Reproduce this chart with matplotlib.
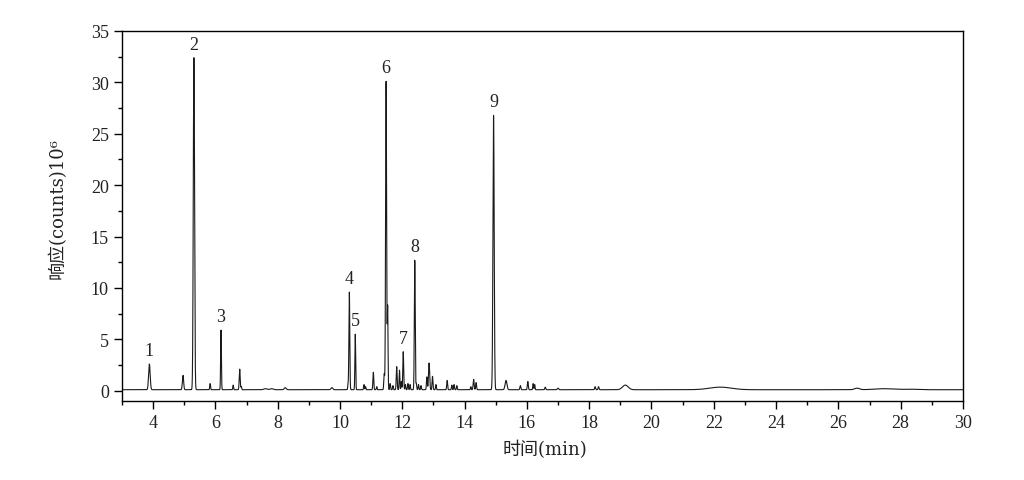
import numpy as np
import matplotlib
matplotlib.use("Agg")
import matplotlib.pyplot as plt
from matplotlib.ticker import MultipleLocator

# ---- data ----
peak_times = [3.88, 4.96, 5.31, 5.83, 6.18, 6.57, 6.78, 6.83, 7.6, 7.8, 8.24, 9.74,
              10.26, 10.30, 10.49, 10.77, 10.82, 11.07, 11.18, 11.42, 11.48, 11.53,
              11.61, 11.70, 11.82, 11.91, 11.97, 12.03, 12.10, 12.18, 12.25, 12.40,
              12.45, 12.52, 12.60, 12.79, 12.86, 12.97, 13.08, 13.44, 13.59, 13.66,
              13.75, 14.20, 14.29, 14.37, 14.93, 15.33, 15.79, 16.03, 16.20, 16.25,
              16.59, 17.00, 18.19, 18.30, 19.16, 22.21, 26.60, 27.45, 28.30]
peak_heights = [2.5, 1.4, 32.3, 0.6, 5.8, 0.45, 2.0, 0.3, 0.1, 0.1, 0.2, 0.2,
                0.5, 9.5, 5.4, 0.5, 0.3, 1.7, 0.3, 1.55, 30.0, 8.0,
                0.6, 0.4, 2.25, 1.9, 0.8, 3.7, 0.5, 0.6, 0.5, 12.6,
                0.6, 0.5, 0.4, 1.25, 2.6, 1.3, 0.5, 0.9, 0.45, 0.5,
                0.4, 0.3, 1.0, 0.7, 26.7, 0.9, 0.4, 0.8, 0.6, 0.5,
                0.25, 0.15, 0.3, 0.3, 0.45, 0.25, 0.15, 0.1, 0.05]
peak_widths = [0.025, 0.02, 0.02, 0.012, 0.012, 0.012, 0.015, 0.012, 0.05, 0.05, 0.03, 0.03,
               0.012, 0.014, 0.012, 0.012, 0.012, 0.014, 0.012, 0.014, 0.016, 0.012,
               0.012, 0.012, 0.014, 0.012, 0.012, 0.014, 0.012, 0.012, 0.012, 0.014,
               0.012, 0.012, 0.012, 0.014, 0.018, 0.014, 0.012, 0.014, 0.012, 0.012,
               0.012, 0.012, 0.016, 0.014, 0.02, 0.03, 0.015, 0.015, 0.012, 0.012,
               0.015, 0.02, 0.015, 0.015, 0.09, 0.35, 0.08, 0.3, 0.2]
baseline = 0.1

label_texts = ["1", "2", "3", "4", "5", "6", "7", "8", "9"]
label_times = [3.88, 5.31, 6.18, 10.30, 10.49, 11.48, 12.03, 12.40, 14.93]
label_heights = [2.5, 32.3, 5.8, 9.5, 5.4, 30.0, 3.7, 12.6, 26.7]

x_ticks = [4, 6, 8, 10, 12, 14, 16, 18, 20, 22, 24, 26, 28, 30]
y_ticks = [0, 5, 10, 15, 20, 25, 30, 35]

# ---- build trace from the peak table ----
t = np.linspace(3.0, 30.0, 40000)
signal = np.full_like(t, baseline)
for tc, h, w in zip(peak_times, peak_heights, peak_widths):
    signal += h * np.exp(-0.5 * ((t - tc) / w) ** 2)

plt.rcParams['font.family'] = ['Liberation Serif', 'Noto Sans CJK SC', 'DejaVu Serif']
LABEL_FAM = ['DejaVu Serif', 'Noto Sans CJK SC']

fig = plt.figure(figsize=(10.24, 4.81), dpi=100)
ax = fig.add_axes([0.1191, 0.1642, 0.8213, 0.7693])
ax.plot(t, signal, color='#1a1a1a', lw=0.8)

ax.set_xlim(3, 30)
ax.set_ylim(-1, 35)
ax.set_xticks(x_ticks)
ax.set_yticks(y_ticks)
ax.xaxis.set_minor_locator(MultipleLocator(1))
ax.yaxis.set_minor_locator(MultipleLocator(2.5))
ax.tick_params(which='major', direction='out', length=6, width=1, labelsize=13,
               colors='black', labelcolor='#222222')
ax.tick_params(which='minor', direction='out', length=3, width=1)
ax.tick_params(top=False, right=False, which='both')
for s in ax.spines.values():
    s.set_linewidth(1.0)
    s.set_color('black')

for txt, tx, th in zip(label_texts, label_times, label_heights):
    ax.text(tx, th + 0.6, txt, ha='center', va='bottom', fontsize=13, color='#222222')

ax.set_xlabel('时间(min)', fontsize=13, color='#222222', family=LABEL_FAM)
ax.set_ylabel('响应(counts)10\u2076', fontsize=13, color='#222222', family=LABEL_FAM)
ax.yaxis.set_label_coords(-0.066, 0.524)
ax.xaxis.set_label_coords(0.5025, -0.105)

fig.savefig('out.png', dpi=100, facecolor='white')
